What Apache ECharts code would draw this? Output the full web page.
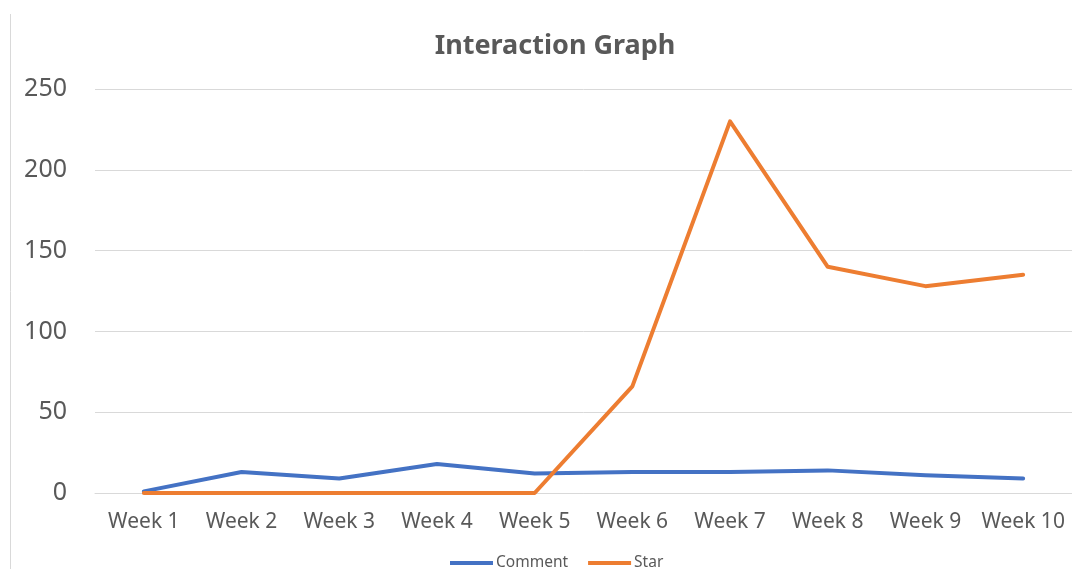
<!DOCTYPE html>
<html>
<head>
<meta charset="utf-8">
<script src="https://cdn.jsdelivr.net/npm/echarts@6/dist/echarts.min.js"></script>
<style>html,body{margin:0;padding:0;background:#fff;}#c{width:1072px;height:569px;}</style>
</head>
<body>
<div id="c"></div>
<script>
const categories = ['Week 1','Week 2','Week 3','Week 4','Week 5','Week 6','Week 7','Week 8','Week 9','Week 10'];
const commentValues = [1, 13, 9, 18, 12, 13, 13, 14, 11, 9];
const starValues = [0, 0, 0, 0, 0, 66, 230, 140, 128, 135];
const yTicks = { min: 0, max: 250, interval: 50 };

const chart = echarts.init(document.getElementById('c'));
chart.setOption({
  backgroundColor: '#ffffff',
  animation: false,
  textStyle: { fontFamily: 'Noto Sans' },
  title: {
    text: 'Interaction Graph',
    left: 550, top: 28, textAlign: 'center',
    textStyle: { fontSize: 27, fontWeight: 'bold', color: '#595959', fontFamily: 'Noto Sans' }
  },
  graphic: [{
    type: 'line', shape: { x1: 10.5, y1: 14, x2: 10.5, y2: 569 },
    style: { stroke: '#d9d9d9', lineWidth: 1 }
  }],
  grid: { left: 95, right: 0, top: 89, bottom: 76 },
  legend: {
    top: 550, left: 445,
    icon: 'rect', itemWidth: 43, itemHeight: 4, itemGap: 20,
    textStyle: { fontSize: 15.5, color: '#595959', padding: [0, 0, 0, -2] },
    data: ['Comment', 'Star']
  },
  xAxis: {
    type: 'category', data: categories, boundaryGap: true,
    axisLine: { show: true, lineStyle: { color: '#d9d9d9', width: 1 } },
    axisTick: { show: false },
    axisLabel: { fontSize: 21, color: '#595959', margin: 19, interval: 0 }
  },
  yAxis: {
    type: 'value', min: yTicks.min, max: yTicks.max, interval: yTicks.interval,
    axisLine: { show: false }, axisTick: { show: false },
    axisLabel: { fontSize: 25, color: '#595959', margin: 28 },
    splitLine: { lineStyle: { color: '#d9d9d9', width: 1 } }
  },
  series: [
    { name: 'Comment', type: 'line', data: commentValues, symbol: 'none',
      lineStyle: { color: '#4472C4', width: 4, cap: 'round', join: 'round' }, itemStyle: { color: '#4472C4' } },
    { name: 'Star', type: 'line', data: starValues, symbol: 'none',
      lineStyle: { color: '#ED7D31', width: 4, cap: 'round', join: 'round' }, itemStyle: { color: '#ED7D31' } }
  ]
});
</script>
</body>
</html>
